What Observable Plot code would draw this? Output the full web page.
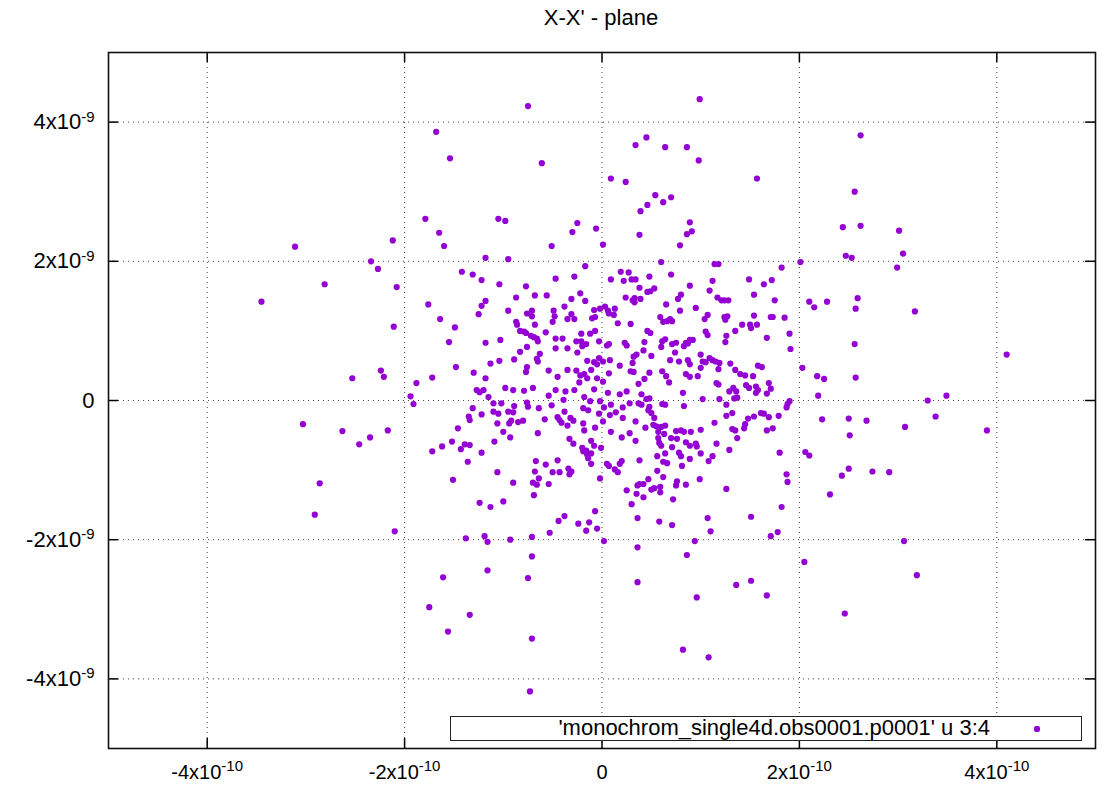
<!DOCTYPE html>
<html>
<head>
<meta charset="utf-8">
<script src="https://cdn.jsdelivr.net/npm/d3@7"></script>
<script src="https://cdn.jsdelivr.net/npm/@observablehq/plot@0.6"></script>
<style>
  html, body { margin: 0; padding: 0; background: #fff; }
  #wrap { position: relative; width: 1107px; height: 788px; font-family: "Liberation Sans", Arial, sans-serif; }
  #title { position: absolute; top: 5px; left: 450px; width: 302px; text-align: center; font-size: 22px; color: #000; }
  #legend { position: absolute; left: 450px; top: 716px; width: 632px; height: 25px; box-sizing: border-box;
            border: 1.5px solid #222; background: #fff; }
  #legend .lbl { position: absolute; right: 91px; top: -1px; font-size: 22px; line-height: 24px; white-space: nowrap; color: #000; }
  #legend .sym { position: absolute; left: 583px; top: 8.5px; width: 6px; height: 6px; background: #9400d3; border-radius: 2px; }
  #chart { position: absolute; left: 0; top: 0; }
</style>
</head>
<body>
<div id="wrap">
  <div id="chart"></div>
  <div id="title">X-X' - plane</div>
  <div id="legend"><span class="lbl">'monochrom_single4d.obs0001.p0001' u 3:4</span><span class="sym"></span></div>
</div>
<script>
// Units: x values in 1e-10, y values in 1e-9
const X_UNIT = 1e-10;
const Y_UNIT = 1e-9;

const xTicks = [-4e-10, -2e-10, 0, 2e-10, 4e-10];
const xTickLabels = ["-4x10^-10", "-2x10^-10", "0", "2x10^-10", "4x10^-10"];
const yTicks = [-4e-9, -2e-9, 0, 2e-9, 4e-9];
const yTickLabels = ["-4x10^-9", "-2x10^-9", "0", "2x10^-9", "4x10^-9"];

const seriesName = "'monochrom_single4d.obs0001.p0001' u 3:4";

// outer / halo particles
const ptsOuter = [
[-3.11,2.21],
[-0.75,4.23],[-1.68,3.86],[-1.54,3.48],[-0.61,3.41],[-1.79,2.61],[-1.05,2.61],[-0.98,2.58],[-1.65,2.41],[-2.12,2.30],[-1.60,2.22],[-0.51,2.22],[-0.30,2.42],[-0.25,2.55],[-0.06,2.47],[-2.34,2.00],[-2.27,1.89],[-1.18,2.05],[-0.95,2.03],[-1.42,1.85],[-1.31,1.81],[-1.22,1.73],[-0.47,1.75],[-0.17,1.93],[-0.28,1.78],
[0.99,4.33],[0.34,3.67],[0.45,3.78],[0.64,3.64],[0.86,3.64],[0.98,3.45],[0.09,3.19],[0.24,3.14],[1.57,3.19],[0.54,2.95],[0.62,2.85],[0.70,2.92],[0.46,2.81],[0.39,2.72],[0.89,2.56],[0.91,2.43],[0.86,2.39],[0.38,2.38],[0.79,2.23],[0.01,2.24],[0.60,1.99],[1.14,1.96],[1.18,1.96],[1.82,1.91],[2.01,1.99],[0.19,1.85],[0.27,1.84],[0.09,1.74],[0.22,1.72],[0.30,1.74],[0.34,1.74],[0.48,1.78],[0.70,1.81],[1.12,1.72],[1.49,1.74],[1.72,1.73],[2.44,2.49],[2.47,2.08],
[2.62,3.81],[2.56,3.00],[2.62,2.51],[3.01,2.44],[3.05,2.11],[2.53,2.05],[2.99,1.91],
[-2.81,1.67],[-3.45,1.42],[-2.53,0.32],[-3.03,-0.34],[-2.63,-0.44],[-2.86,-1.19],[-2.91,-1.64],
[2.59,1.47],[2.57,1.32],[3.17,1.28],[2.56,0.81],[4.10,0.66],[2.57,0.33],[3.30,0.00],[3.49,0.07],[3.38,-0.23],[2.68,-0.29],[2.50,-0.26],[3.07,-0.38],[3.90,-0.43],[2.51,-0.50],[2.50,-0.98],[2.74,-1.02],[2.91,-1.03],
[3.06,-2.02],[3.19,-2.51],
[0.36,-1.69],[0.58,-1.74],[0.71,-1.79],[1.07,-1.69],[1.51,-1.67],[1.10,-1.88],[0.02,-2.02],[0.94,-2.02],[1.71,-1.95],[1.78,-1.89],[0.36,-2.11],[0.86,-2.22],[0.36,-2.61],[0.96,-2.83],[1.36,-2.65],[1.51,-2.59],[1.67,-2.80],[2.05,-2.32],[2.46,-3.06],[0.82,-3.58],[1.08,-3.69],
[-2.10,-1.88],[-1.38,-1.98],[-1.19,-1.95],[-1.16,-2.03],[-0.93,-2.00],[-0.71,-1.96],[-0.53,-1.90],[-0.44,-1.73],[-0.38,-1.66],[-0.24,-1.77],[-0.13,-1.75],[-0.16,-1.87],[-0.05,-1.84],[-0.71,-2.24],[-1.16,-2.44],[-1.61,-2.54],[-0.75,-2.55],[-1.75,-2.97],[-1.34,-3.08],[-1.56,-3.32],[-0.71,-3.42],[-0.73,-4.18]
];

// core, left half
const ptsCoreLeft = [
[-2.08,1.63],[-1.04,1.67],[-0.77,1.64],[-0.87,1.48],[-0.68,1.51],[-0.56,1.51],[-0.31,1.46],[-0.22,1.54],[-0.17,1.43],[-1.18,1.43],[-1.22,1.36],[-1.76,1.38],[-0.95,1.29],[-0.76,1.25],[-0.71,1.29],[-0.71,1.21],[-0.49,1.29],[-0.38,1.35],[-0.08,1.30],[-0.02,1.32],[-1.25,1.24],[-0.35,1.17],[-0.31,1.24],[-0.28,1.17],[-0.50,1.13],[-0.48,1.21],[-0.10,1.18],[-0.07,1.20],[-1.64,1.17],[-2.11,1.06],[-1.49,1.05],[-0.87,1.13],[-0.86,1.09],[-0.68,1.09],[-0.83,1.00],[-0.79,0.99],[-0.77,0.97],[-0.72,0.93],[-0.69,0.91],[-0.66,0.89],[-0.65,0.85],[-0.57,0.98],[-0.47,0.89],[-0.40,0.89],[-0.21,0.96],[-0.12,0.96],[-0.07,1.00],[-1.55,0.84],[-1.18,0.83],[-1.03,0.87],[-0.26,0.85],[-0.21,0.85],[-0.16,0.81],[-0.20,0.78],[-0.03,0.85],[-0.76,0.77],[-0.83,0.70],[-0.63,0.67],[-0.47,0.75],[-0.35,0.75],[-0.25,0.69],[-0.66,0.60],[-0.65,0.56],[-0.89,0.59],[-1.04,0.57],[-1.13,0.53],[-0.15,0.57],[-0.08,0.55],[-0.05,0.52],[-0.03,0.61],[-1.48,0.48],[-1.30,0.40],[-0.76,0.48],[-0.77,0.41],[-0.54,0.43],[-0.35,0.44],[-0.26,0.43],[-0.22,0.36],[-0.45,0.34],[-0.18,0.38],[-0.11,0.44],[-0.05,0.32],[-2.24,0.43],[-2.21,0.34],[-1.72,0.33],[-1.88,0.25],[-1.18,0.32],[-0.15,0.32],[-0.23,0.26],[-0.98,0.18],[-0.90,0.15],[-0.79,0.14],[-0.70,0.18],[-1.27,0.15],[-1.24,0.12],[-1.20,0.15],[-0.47,0.15],[-0.28,0.15],[-0.37,0.13],[-0.54,0.07],[-1.15,0.05],[-0.18,0.05],[-1.94,0.06],[-0.08,0.16],[-1.91,-0.05],[-1.31,-0.11],[-1.10,-0.04],[-1.02,-0.04],[-0.89,-0.08],[-0.76,-0.03],[-0.75,-0.09],[-0.64,-0.11],[-0.51,-0.07],[-0.39,0.01],[-0.19,-0.11],[-0.12,-0.01],[-0.02,-0.01],[-1.22,-0.20],[-1.10,-0.16],[-1.05,-0.19],[-0.95,-0.16],[-0.90,-0.17],[-1.35,-0.23],[-1.34,-0.28],
[-0.45,-0.24],[-0.43,-0.28],[-0.38,-0.16],[-0.32,-0.25],[-0.29,-0.29],[-0.14,-0.14],[-0.03,-0.19],[-0.58,-0.27],[-1.06,-0.33],[-0.94,-0.33],[-0.92,-0.29],[-0.85,-0.31],[-0.80,-0.29],[-0.41,-0.32],[-0.35,-0.36],[-0.19,-0.33],[-1.46,-0.40],[-1.00,-0.45],[-0.93,-0.53],[-0.65,-0.47],[-0.18,-0.43],[-0.07,-0.39],[-2.17,-0.43],[-2.35,-0.53],[-1.09,-0.59],[-0.33,-0.55],[-0.29,-0.62],[-0.11,-0.58],[-0.08,-0.65],[-2.46,-0.63],[-1.62,-0.66],[-1.52,-0.59],[-1.72,-0.73],[-1.43,-0.70],[-1.39,-0.63],[-1.34,-0.64],[-1.22,-0.75],[-0.20,-0.68],[-0.16,-0.72],[-0.15,-0.78],[-0.11,-0.76],[-0.19,-0.73],[-1.36,-0.88],[-0.67,-0.87],[-0.57,-0.92],[-0.45,-0.86],[-0.14,-0.83],[-0.11,-0.91],[-1.06,-1.03],[-0.68,-1.02],[-0.50,-1.03],[-0.43,-1.03],[-0.34,-0.98],[-0.31,-1.02],[-0.33,-1.06],[-1.51,-1.14],[-0.64,-1.12],[-0.70,-1.18],[-0.66,-1.21],[-0.54,-1.20],[-0.90,-1.18],[-0.02,-1.12],[-0.69,-1.36],[-1.24,-1.47],[-1.13,-1.53],[-1.00,-1.45],[-0.07,-1.59]
];

// core, right half
const ptsCoreRight = [
[1.64,1.67],[0.38,1.62],[0.46,1.56],[0.53,1.61],[0.49,1.57],[0.89,1.65],[0.24,1.48],[0.31,1.44],[0.33,1.41],[0.39,1.46],[0.33,1.47],[0.80,1.52],[0.77,1.46],[0.65,1.38],[0.95,1.33],[1.09,1.58],[1.17,1.48],[1.21,1.44],[1.24,1.44],[1.28,1.44],[1.54,1.52],[1.75,1.44],[2.10,1.42],[2.15,1.34],[2.28,1.42],[0.03,1.35],[0.13,1.32],[0.12,1.23],[0.07,1.25],[0.06,1.29],[0.16,1.11],[0.29,1.10],[0.59,1.20],[0.62,1.13],[0.66,1.14],[0.71,1.14],[0.69,1.17],[0.79,1.29],[1.07,1.23],[1.04,1.17],[1.24,1.20],[1.25,1.16],[1.27,1.21],[1.54,1.22],[1.71,1.20],[1.73,1.20],[1.85,1.19],[1.42,1.09],[1.50,1.09],[1.51,1.04],[1.57,1.09],[1.35,1.00],[1.67,0.90],[1.90,0.96],[1.91,0.74],[0.46,1.00],[0.49,0.97],[0.07,0.81],[0.05,0.79],[0.23,0.83],[0.25,0.79],[0.43,0.84],[0.61,0.85],[0.64,0.88],[0.60,0.77],[0.71,0.81],[0.75,0.83],[0.74,0.69],[0.85,0.83],[0.89,0.87],[0.92,0.87],[0.83,0.78],[0.87,0.82],[1.07,0.94],[1.05,0.99],[1.26,0.93],[1.25,0.84],[1.00,0.66],[1.09,0.61],[1.15,0.56],[0.35,0.66],[0.32,0.63],[0.42,0.72],[0.50,0.64],[0.01,0.56],[0.08,0.58],[0.18,0.50],[0.31,0.54],[0.69,0.58],[0.78,0.56],[0.87,0.58],[0.89,0.52],[1.02,0.56],[1.05,0.55],[1.12,0.58],[1.19,0.54],[1.18,0.45],[1.30,0.53],[1.35,0.44],[1.40,0.38],[1.45,0.36],[1.53,0.35],[1.58,0.50],[1.62,0.48],[2.03,0.47],[0.07,0.39],[0.29,0.42],[0.32,0.41],[0.48,0.40],[0.61,0.42],[0.65,0.35],[0.68,0.26],[0.43,0.31],[0.37,0.24],[0.01,0.27],[0.85,0.38],[0.89,0.34],[0.97,0.35],[1.00,0.47],[2.18,0.35],[2.25,0.31],[1.16,0.25],[1.18,0.23],[1.29,0.13],[1.33,0.18],[1.36,0.13],[1.46,0.22],[1.49,0.18],[1.56,0.20],[1.58,0.15],[1.56,0.11],[1.69,0.25],[1.71,0.17],[1.67,0.10],[0.06,0.11],[0.18,0.09],[0.25,0.13],[0.40,0.09],[0.48,0.03],[0.45,0.02],[0.82,0.11],[1.34,0.03],[1.37,0.04],[1.02,0.02],[1.19,0.02],[2.19,0.07],[0.09,-0.06],[0.02,-0.10],[0.08,-0.21],[0.14,-0.17],[0.21,-0.10],[0.28,-0.04],[0.37,-0.04],[0.40,-0.06],[0.48,-0.09],[0.47,-0.14],[0.50,-0.18],[0.61,-0.05],[0.64,-0.06],[0.83,-0.08],[1.26,-0.06],[1.26,-0.22],[1.32,-0.18],[1.48,-0.26],[1.54,-0.23],[1.61,-0.18],[1.64,-0.19],[1.69,-0.24],[1.79,-0.22],[1.87,-0.10],[1.88,-0.05],[1.90,-0.01],[2.23,-0.27],[0.01,-0.30],[0.21,-0.25],[0.34,-0.30],[0.53,-0.25],[0.52,-0.35],[0.55,-0.37],[0.60,-0.38],[0.64,-0.36],[0.44,-0.39],[0.75,-0.44],[0.80,-0.43],[0.83,-0.45],[0.90,-0.45],[1.00,-0.42],[1.14,-0.32],[1.32,-0.41],[1.35,-0.43],[1.45,-0.34],[1.44,-0.40],[1.37,-0.54],[1.67,-0.43],[1.73,-0.40],[0.09,-0.45],[0.20,-0.53],[0.28,-0.47],[0.34,-0.58],[0.57,-0.45],[0.63,-0.48],[0.57,-0.54],[0.58,-0.61],[0.60,-0.65],[0.70,-0.54],[0.76,-0.55],[0.85,-0.60],[0.89,-0.65],[0.95,-0.62],[0.96,-0.66],[1.16,-0.62],[1.29,-0.71],[0.71,-0.67],[0.78,-0.75],[0.80,-0.80],[0.64,-0.76],[0.56,-0.80],[1.00,-0.76],[1.08,-0.87],[1.12,-0.80],[0.89,-0.84],[1.80,-0.75],[2.06,-0.74],[2.10,-0.79],[-0.01,-0.68],[0.20,-0.87],[0.18,-0.91],[0.05,-0.91],[0.07,-0.94],[0.13,-0.99],[0.16,-1.03],[0.38,-0.86],[0.62,-0.88],[0.66,-0.90],[0.81,-0.94],[0.56,-1.01],[0.62,-1.10],[1.87,-1.06],[1.88,-1.17],[0.99,-1.13],[0.76,-1.16],[0.85,-1.21],[0.75,-1.22],[0.47,-1.13],[0.50,-1.28],[0.53,-1.26],[0.59,-1.24],[0.59,-1.32],[0.38,-1.20],[0.42,-1.20],[0.36,-1.22],[0.35,-1.34],[0.42,-1.39],[0.25,-1.29],[0.72,-1.42],[1.26,-1.27],[0.30,-1.49],[1.82,-1.53],[2.43,-1.08],[2.31,-1.35]
];

const particles = [...ptsOuter, ...ptsCoreLeft, ...ptsCoreRight]
  .map(([x, y]) => ({x: x * X_UNIT, y: y * Y_UNIT, series: seriesName}));

const W = 1107, H = 788;
const mL = 108, mR = 12, mT = 52, mB = 40;
const innerW = W - mL - mR, innerH = H - mT - mB;
const tickLen = 10;

const gridStyle = {stroke: "#000", strokeOpacity: 0.75, strokeWidth: 1, strokeDasharray: "1,4"};
const tickStyle = {stroke: "#000", strokeWidth: 1.5};

const chart = Plot.plot({
  width: W,
  height: H,
  marginLeft: mL, marginRight: mR, marginTop: mT, marginBottom: mB,
  style: {fontFamily: "'Liberation Sans', Arial, sans-serif", fontSize: "20px", color: "#000", background: "#fff", overflow: "visible"},
  x: {domain: [-5e-10, 5e-10]},
  y: {domain: [-5e-9, 5e-9]},
  marks: [
    Plot.ruleX(xTicks, {x: d => d, ...gridStyle}),
    Plot.ruleY(yTicks, {y: d => d, ...gridStyle}),
    Plot.dot(particles, {x: "x", y: "y", r: 3.1, fill: "#9400d3", stroke: "none"}),
    Plot.tickX(xTicks, {x: d => d, insetTop: innerH - tickLen, ...tickStyle}),
    Plot.tickX(xTicks, {x: d => d, insetBottom: innerH - tickLen, ...tickStyle}),
    Plot.tickY(yTicks, {y: d => d, insetRight: innerW - tickLen, ...tickStyle}),
    Plot.tickY(yTicks, {y: d => d, insetLeft: innerW - tickLen, ...tickStyle}),
    Plot.axisX(xTicks, {anchor: "bottom", tickSize: 0, tickPadding: 16, label: null,
      tickFormat: d => xTickLabels[xTicks.indexOf(d)], fontSize: 20}),
    Plot.axisY(yTicks, {anchor: "left", tickSize: 0, tickPadding: 14, label: null,
      tickFormat: d => yTickLabels[yTicks.indexOf(d)], fontSize: 22}),
    Plot.frame({stroke: "#111", strokeWidth: 1.6})
  ]
});

// render superscript exponents in tick labels
d3.select(chart).selectAll("text").each(function() {
  const t = d3.select(this);
  const s = t.text();
  if (s.includes("^")) {
    const [base, exp] = s.split("^");
    t.text(base);
    t.append("tspan").attr("dy", "-0.5em").attr("font-size", "15px").text(exp);
  }
});

document.getElementById("chart").appendChild(chart);
</script>
</body>
</html>
